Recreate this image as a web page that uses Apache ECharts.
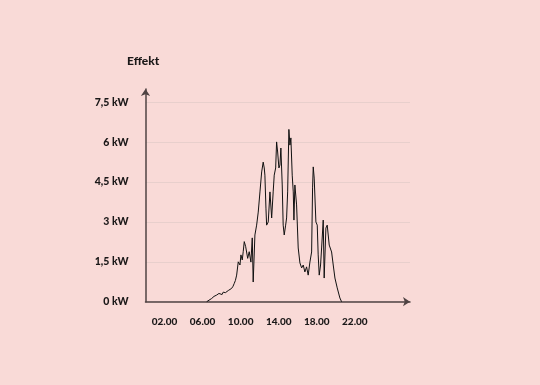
<!DOCTYPE html>
<html>
<head>
<meta charset="utf-8">
<script src="https://cdn.jsdelivr.net/npm/echarts@6/dist/echarts.min.js"></script>
<style>
html,body{margin:0;padding:0;background:#f9dad7;}
#c{width:540px;height:385px;}
</style>
</head>
<body>
<div id="c"></div>
<script>
const hours = [6.43,6.95,7.2,7.35,7.48,7.6,7.72,7.82,7.93,8.05,8.17,8.28,8.40,8.55,8.70,8.85,9.05,9.2,9.33,9.45,9.58,9.75,9.93,10.03,10.17,10.27,10.38,10.53,10.74,10.90,11.08,11.22,11.32,11.50,11.68,11.85,12.03,12.21,12.37,12.48,12.55,12.66,12.73,12.90,13.08,13.18,13.26,13.42,13.53,13.68,13.78,13.89,14.02,14.13,14.23,14.37,14.47,14.58,14.73,14.83,14.94,15.07,15.18,15.28,15.42,15.53,15.60,15.70,15.88,16.05,16.23,16.41,16.58,16.75,16.93,17.10,17.28,17.46,17.56,17.63,17.73,17.84,17.91,18.05,18.15,18.26,18.40,18.51,18.68,18.78,18.96,19.10,19.31,19.45,19.56,19.73,19.91,20.15,20.43,20.61];
const power = [0,0.12,0.2,0.17,0.25,0.22,0.31,0.26,0.32,0.27,0.36,0.3,0.34,0.37,0.42,0.44,0.50,0.58,0.69,0.8,1.00,1.50,1.38,1.76,1.57,1.88,2.26,2.07,1.63,1.88,1.49,2.40,0.74,2.51,2.88,3.37,4.13,4.88,5.25,5.03,4.76,3.52,2.88,3.00,4.13,4.20,3.15,4.13,4.76,5.03,6.01,5.63,5.03,5.14,5.78,4.39,2.88,2.51,2.88,3.15,4.13,6.48,5.89,6.16,4.76,4.13,3.07,4.39,3.64,2.02,1.46,1.27,1.38,1.12,1.31,1.00,1.49,1.87,4.28,5.07,4.65,4.58,3.00,2.88,1.76,1.00,1.38,2.02,3.07,0.89,2.77,2.88,2.13,2.06,1.87,1.38,0.89,0.52,0.14,0];
const xTickValues = [2,6,10,14,18,22];
const xTickLabels = ['02.00','06.00','10.00','14.00','18.00','22.00'];
const yTickLabels = {0:'0 kW',1.5:'1,5 kW',3:'3 kW',4.5:'4,5 kW',6:'6 kW',7.5:'7,5 kW'};

const chart = echarts.init(document.getElementById('c'), null, {renderer:'canvas'});
const txt = '#1a1818';
const axisCol = '#4f4343';
const gridCol = '#e8cfcc';
chart.setOption({
  backgroundColor:'#f9dad7',
  animation:false,
  title:{text:'Effekt',left:127,top:55,padding:0,textStyle:{fontFamily:'Lato',fontWeight:900,fontSize:12,color:txt}},
  grid:{left:145.5,right:130,top:89,bottom:83.3,containLabel:false},
  xAxis:{
    type:'value',min:0,max:27.8,
    axisLine:{show:true,symbol:['none','arrow'],symbolSize:[7,7],lineStyle:{color:axisCol,width:1.5}},
    axisTick:{show:false},
    splitLine:{show:false},
    axisLabel:{customValues:xTickValues,margin:15,fontFamily:'Lato',fontWeight:900,fontSize:10,color:txt,
      formatter:v=>xTickLabels[xTickValues.indexOf(v)] || ''}
  },
  yAxis:{
    type:'value',min:0,max:8,interval:1.5,
    axisLine:{show:true,symbol:['none','arrow'],symbolSize:[7,7],lineStyle:{color:axisCol,width:1.5}},
    axisTick:{show:false},
    splitLine:{show:true,lineStyle:{color:[gridCol,gridCol,gridCol,gridCol,gridCol,gridCol,'rgba(0,0,0,0)'],width:1}},
    axisLabel:{margin:17,fontFamily:'Lato',fontWeight:900,fontSize:10.5,color:txt,
      formatter:v=>yTickLabels[v] !== undefined ? yTickLabels[v] : ''}
  },
  series:[{
    type:'line',
    data:hours.map((h,i)=>[h,power[i]]),
    showSymbol:false,symbol:'none',
    lineStyle:{color:'#111',width:1},
    z:3
  }]
});
</script>
</body>
</html>
